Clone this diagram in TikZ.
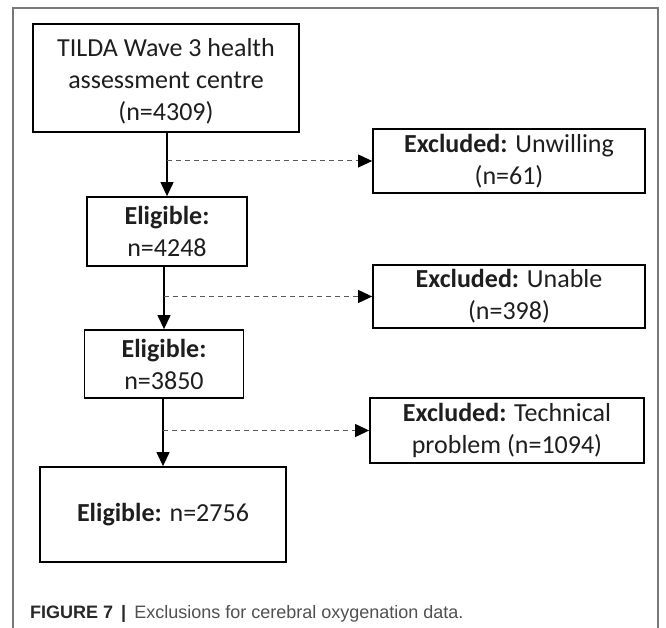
\documentclass[tikz,border=0pt]{standalone}
\usepackage{fontspec}
\setmainfont{Carlito}
\newfontfamily\capfont{Liberation Sans}
\usetikzlibrary{arrows.meta}
\definecolor{frameg}{RGB}{120,120,120}
\definecolor{boxtext}{RGB}{30,30,30}
\definecolor{capbold}{RGB}{40,40,40}
\definecolor{captext}{RGB}{80,80,80}
\begin{document}
\begin{tikzpicture}[x=1pt,y=-1pt,
  box/.style={draw=black, line width=1.8pt, inner sep=0pt, align=center,
    font=\fontsize{26}{32}\selectfont, text=boxtext},
  boxtxt/.style={inner sep=0pt, align=center, font=\fontsize{26}{32}\selectfont, text=boxtext},
  flow/.style={line width=1.2pt, -{Triangle[length=14pt,width=13pt]}},
  excl/.style={line width=1pt, draw=black!65, dash pattern=on 5pt off 4pt,
    -{Triangle[length=14pt,width=13pt,color=black]}},
  framel/.style={draw=frameg, line width=1.4pt}
]
\useasboundingbox (0,0) rectangle (666,628);
\draw[framel] (13,628) -- (13,8) -- (658,8) -- (658,628);

\node[box, minimum width=266pt, minimum height=108pt] (top) at (166,78) {};
\node[boxtxt] (toptxt) at ([yshift=-3pt]top.center)
  {TILDA Wave 3 health\\assessment centre\\(n=4309)};
\node[box, minimum width=272pt, minimum height=64pt] (x1) at (509,161)
  {\textbf{Excluded:} Unwilling\\(n=61)};
\node[box, minimum width=160pt, minimum height=69pt] (e1) at (167,231.5)
  {\textbf{Eligible:}\\n=4248};
\node[box, minimum width=272pt, minimum height=63pt] (x2) at (509,296.5)
  {\textbf{Excluded:} Unable\\(n=398)};
\node[box, minimum width=159pt, minimum height=68pt] (e2) at (164,364)
  {\textbf{Eligible:}\\n=3850};
\node[box, minimum width=274pt, minimum height=65pt] (x3) at (507,430.5)
  {\textbf{Excluded:} Technical\\problem (n=1094)};
\node[box, minimum width=246pt, minimum height=95pt] (e3) at (163,514.5)
  {\textbf{Eligible:} n=2756};

\draw[flow] (top.south -| e1.north) -- (e1.north);
\draw[flow] (e1.south -| e2.north) -- (e2.north);
\draw[flow] (e2.south -| e3.north) -- (e3.north);

\draw[excl] (x1.west -| e1.north) -- (x1.west);
\draw[excl] (x2.west -| e2.north) -- (x2.west);
\draw[excl] (x3.west -| e3.north) -- (x3.west);

\node[anchor=base west, inner sep=0pt, font=\capfont\fontsize{18}{20}\selectfont, text=captext] (cap) at (30,618)
  {\textcolor{capbold}{\textbf{FIGURE 7 \,|\,}} Exclusions for cerebral oxygenation data.};
\end{tikzpicture}
\end{document}
